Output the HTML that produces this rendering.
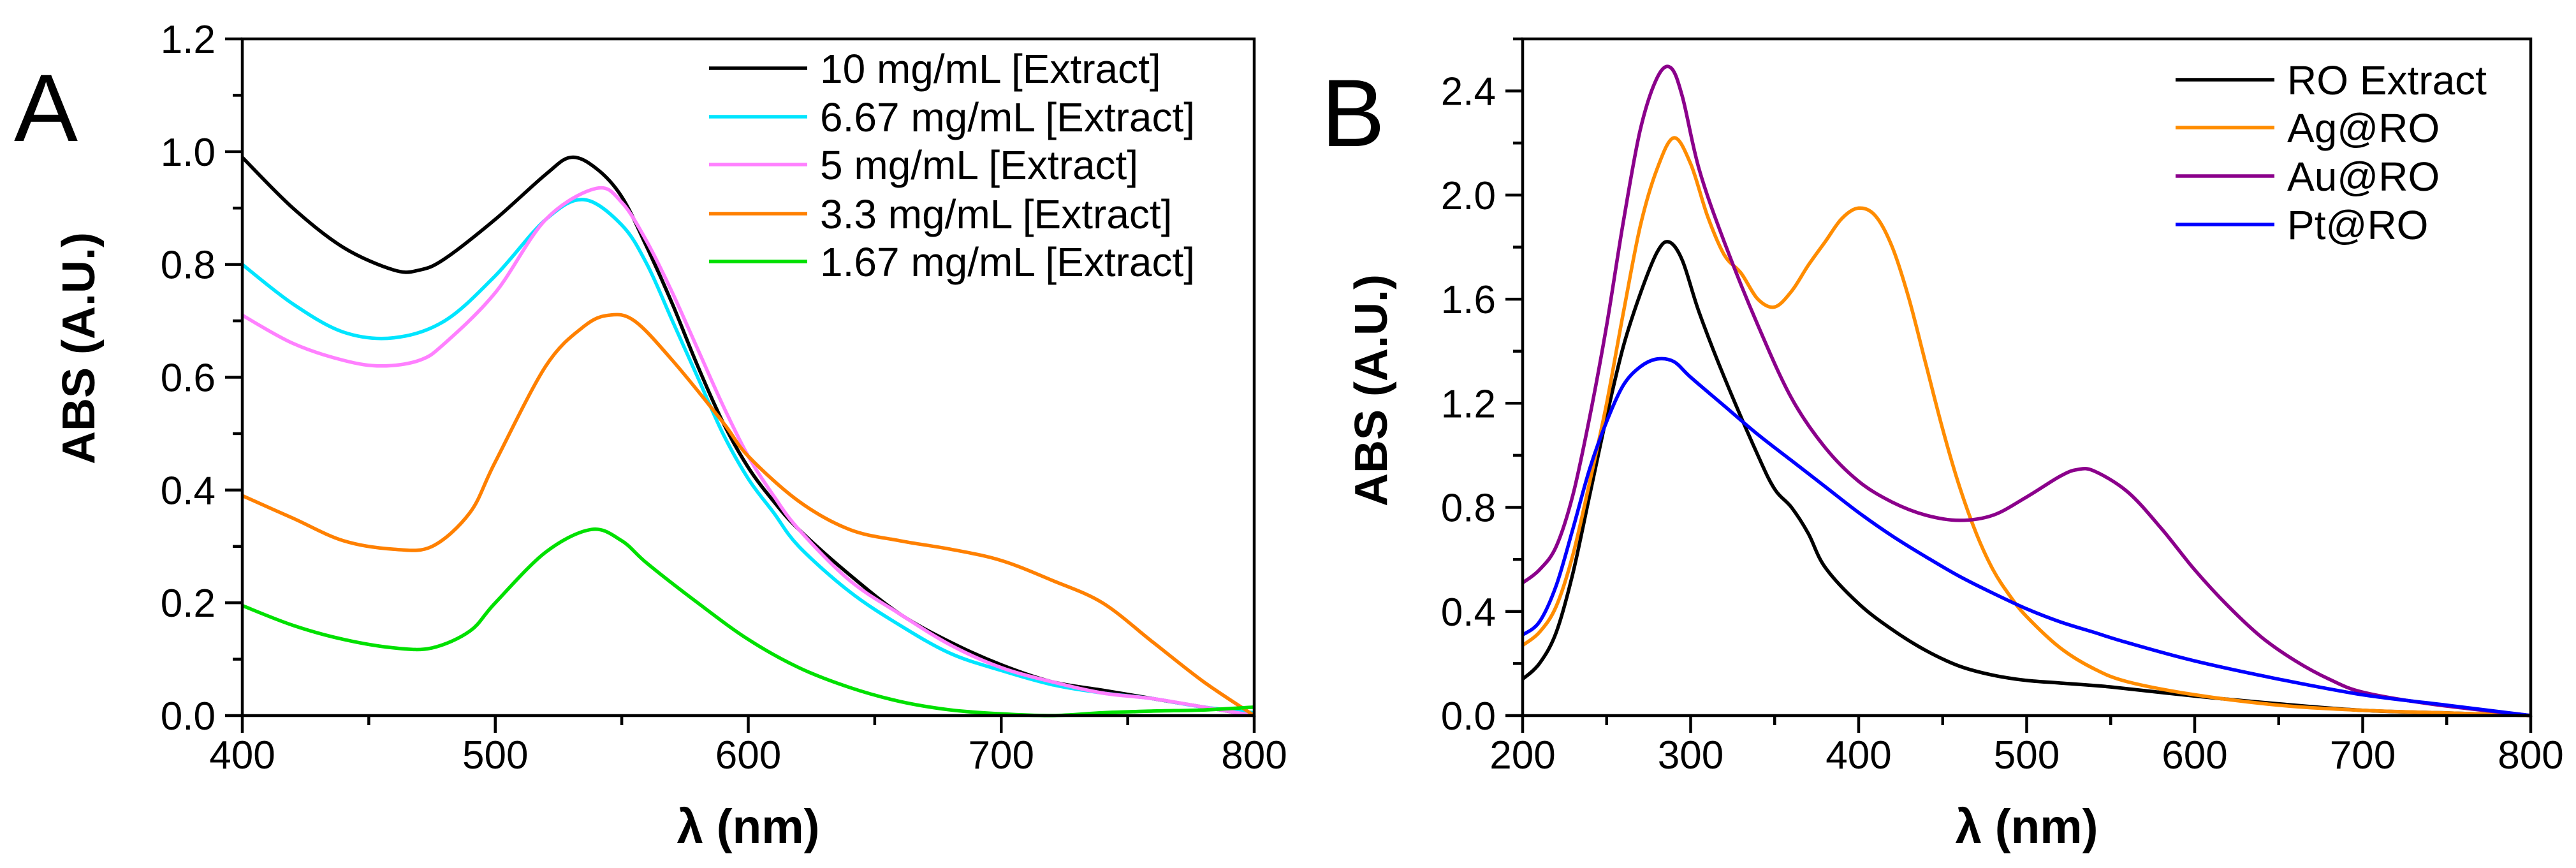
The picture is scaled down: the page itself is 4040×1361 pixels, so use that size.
<!DOCTYPE html>
<html><head><meta charset="utf-8"><style>
html,body{margin:0;padding:0;background:#fff}
svg text{font-family:"Liberation Sans",sans-serif}
</style></head><body>
<svg id="fig" width="4040" height="1356" viewBox="0 0 4040 1356" xmlns="http://www.w3.org/2000/svg"></svg>
<script>
// Panel A data
const xA_ticks=[400,500,600,700,800];
const yA_ticks=[0.0,0.2,0.4,0.6,0.8,1.0,1.2];
const yA_tickLabels=["0.0","0.2","0.4","0.6","0.8","1.0","1.2"];
const a10_x=[400,420,440,460,470,480,500,520,530,540,550,560,570,580,590,600,610,620,640,660,680,700,720,740,760,780,800];
const a10_y=[0.99,0.90,0.83,0.79,0.79,0.81,0.88,0.96,0.99,0.97,0.92,0.83,0.73,0.62,0.52,0.44,0.38,0.33,0.25,0.18,0.13,0.09,0.06,0.045,0.03,0.015,0.0];
const a667_x=[400,420,440,460,480,500,520,535,550,560,570,580,590,600,610,620,640,660,680,700,720,740,760,780,800];
const a667_y=[0.80,0.73,0.68,0.67,0.70,0.78,0.88,0.915,0.87,0.80,0.70,0.60,0.50,0.42,0.36,0.30,0.22,0.16,0.11,0.08,0.055,0.04,0.03,0.015,0.005];
const a5_x=[400,420,440,455,470,480,500,520,540,550,560,570,580,590,600,610,620,640,660,680,700,720,740,760,780,800];
const a5_y=[0.71,0.66,0.63,0.62,0.63,0.66,0.75,0.88,0.935,0.91,0.84,0.75,0.65,0.55,0.46,0.39,0.33,0.24,0.18,0.125,0.085,0.06,0.04,0.03,0.015,0.0];
const a33_x=[400,420,440,460,475,490,500,520,535,545,555,570,590,600,620,640,660,680,700,720,740,760,780,800];
const a33_y=[0.39,0.35,0.31,0.295,0.30,0.36,0.45,0.62,0.69,0.71,0.70,0.63,0.52,0.46,0.38,0.33,0.31,0.295,0.275,0.24,0.20,0.13,0.06,0.0];
const a167_x=[400,420,440,460,475,490,500,520,538,550,560,580,600,620,640,660,680,700,720,740,760,780,800];
const a167_y=[0.195,0.16,0.135,0.12,0.12,0.15,0.20,0.29,0.33,0.31,0.27,0.20,0.135,0.085,0.05,0.025,0.01,0.003,0.0,0.005,0.008,0.01,0.015];
const A_labels=["10 mg/mL [Extract]","6.67 mg/mL [Extract]","5 mg/mL [Extract]","3.3 mg/mL [Extract]","1.67 mg/mL [Extract]"];
// Panel B data
const xB_ticks=[200,300,400,500,600,700,800];
const yB_ticks=[0.0,0.4,0.8,1.2,1.6,2.0,2.4];
const yB_tickLabels=["0.0","0.4","0.8","1.2","1.6","2.0","2.4"];
const ro_x=[200,210,220,230,240,250,260,270,280,287,295,305,320,340,350,360,370,380,400,420,440,460,480,500,520,550,600,650,700,750,800];
const ro_y=[0.14,0.20,0.32,0.55,0.85,1.15,1.42,1.62,1.78,1.82,1.75,1.55,1.30,1.00,0.87,0.80,0.70,0.57,0.43,0.33,0.25,0.19,0.155,0.135,0.125,0.11,0.075,0.045,0.02,0.01,0.0];
const ag_x=[200,210,220,230,240,250,260,270,280,290,300,310,320,330,340,350,360,370,380,390,400,410,420,430,440,450,460,470,480,490,500,520,540,560,600,650,700,750,800];
const ag_y=[0.27,0.32,0.42,0.62,0.90,1.20,1.55,1.88,2.10,2.22,2.12,1.92,1.77,1.70,1.60,1.57,1.63,1.73,1.82,1.91,1.95,1.92,1.80,1.60,1.35,1.10,0.88,0.70,0.56,0.46,0.38,0.26,0.18,0.13,0.08,0.04,0.02,0.01,0.0];
const au_x=[200,210,220,230,240,250,260,270,280,288,295,305,320,340,360,380,400,420,440,460,480,500,520,530,540,560,580,600,620,640,660,680,700,740,800];
const au_y=[0.51,0.56,0.65,0.85,1.15,1.50,1.90,2.25,2.45,2.49,2.38,2.10,1.82,1.50,1.22,1.03,0.90,0.82,0.77,0.75,0.77,0.84,0.92,0.945,0.94,0.86,0.72,0.56,0.42,0.30,0.21,0.14,0.09,0.045,0.0];
const pt_x=[200,210,220,230,240,250,260,270,280,290,300,320,340,360,380,400,420,440,460,480,500,520,540,560,600,650,700,750,800];
const pt_y=[0.31,0.36,0.50,0.72,0.95,1.13,1.27,1.34,1.37,1.36,1.30,1.19,1.08,0.98,0.88,0.78,0.69,0.61,0.535,0.47,0.41,0.36,0.32,0.28,0.21,0.14,0.08,0.04,0.0];
const B_labels=["RO Extract","Ag@RO","Au@RO","Pt@RO"];

const NS="http://www.w3.org/2000/svg";
const svg=document.getElementById('fig');
function mk(tag,attrs,parent){const e=document.createElementNS(NS,tag);for(const k in attrs)e.setAttribute(k,attrs[k]);(parent||svg).appendChild(e);return e;}
function smooth(pts){let d=`M${pts[0][0]},${pts[0][1]}`;for(let i=0;i<pts.length-1;i++){const p0=pts[Math.max(i-1,0)],p1=pts[i],p2=pts[i+1],p3=pts[Math.min(i+2,pts.length-1)];const c1=[p1[0]+(p2[0]-p0[0])/6,p1[1]+(p2[1]-p0[1])/6],c2=[p2[0]-(p3[0]-p1[0])/6,p2[1]-(p3[1]-p1[1])/6];d+=` C${c1[0].toFixed(1)},${c1[1].toFixed(1)} ${c2[0].toFixed(1)},${c2[1].toFixed(1)} ${p2[0].toFixed(1)},${p2[1].toFixed(1)}`;}return d;}

function panel(cfg){
  const g=mk('g',{});
  
  
  const {L,R,T,B,xmin,xmax,ymin,ymax}=cfg;
  const sx=v=>L+(v-xmin)/(xmax-xmin)*(R-L);
  const sy=v=>B-(v-ymin)/(ymax-ymin)*(B-T);
  cfg.series.forEach(s=>{
    const pts=s.x.map((v,i)=>[sx(v),sy(s.y[i])]);
    const p=mk('path',{d:smooth(pts),fill:'none',stroke:s.color,'stroke-width':5.5,'stroke-linejoin':'round'},g);
    
    
  });
  const fr=mk('rect',{x:L,y:T,width:R-L,height:B-T,fill:'none',stroke:'#000','stroke-width':4.5},g);
  
  
  for(let v=xmin;v<=xmax+0.01;v+=cfg.xminor){const major=Math.abs((v-xmin)%cfg.xmajor)<1e-6;mk('line',{x1:sx(v),x2:sx(v),y1:B,y2:B+(major?27:15),stroke:'#000','stroke-width':4.5},g);}
  cfg.xticks.forEach(v=>{const t=mk('text',{x:sx(v),y:1205,'font-size':62,'text-anchor':'middle',fill:'#000'},g);t.textContent=String(v);});
  for(let v=ymin;v<=ymax+1e-6;v+=cfg.yminor){const k=Math.round((v-ymin)/cfg.yminor);const major=k%2===0;mk('line',{x1:L,x2:L-(major?27:15),y1:sy(v),y2:sy(v),stroke:'#000','stroke-width':4.5},g);}
  cfg.yticks.forEach((v,i)=>{const t=mk('text',{x:L-42,y:sy(v)+22,'font-size':62,'text-anchor':'end',fill:'#000'},g);t.textContent=cfg.ytickLabels[i];});
  const xt=mk('text',{x:(L+R)/2,y:1322,'font-size':76,'font-weight':'bold','text-anchor':'middle',fill:'#000',textLength:224,lengthAdjust:'spacingAndGlyphs'},g);
  xt.textContent='λ (nm)';
  const yx=cfg.ytitleX, yy=cfg.ytitleY;
  const yt=mk('text',{x:yx,y:yy,'font-size':72,'font-weight':'bold','text-anchor':'middle',fill:'#000',transform:`rotate(-90 ${yx} ${yy})`},g);
  yt.textContent='ABS (A.U.)';
  const lt=mk('text',{x:cfg.letterX,y:cfg.letterY,'font-size':150,fill:'#000'},g);
  lt.textContent=cfg.letter;
  cfg.series.forEach((s,i)=>{
    const y=cfg.legY[i];
    const ln=mk('line',{x1:cfg.legX1,x2:cfg.legX2,y1:y,y2:y,stroke:s.color,'stroke-width':5.5},g);
    
    const t=mk('text',{x:cfg.legX2+20,y:y+23,'font-size':64,fill:'#000'},g);
    t.textContent=s.label;
  });
}
panel({name:'panel-a',L:380,R:1967,T:61,B:1122,xmin:400,xmax:800,ymin:0,ymax:1.2,xmajor:100,xminor:50,yminor:0.1,
  xticks:xA_ticks,yticks:yA_ticks,ytickLabels:yA_tickLabels,ytitleX:148,ytitleY:546,letter:'A',letterX:22,letterY:221,
  legX1:1112,legX2:1266,legY:[107,183,258,335,410],
  series:[
    {x:a10_x,y:a10_y,color:'#000000',label:A_labels[0],dname:'line-10mg'},
    {x:a667_x,y:a667_y,color:'#00e5ff',label:A_labels[1],dname:'line-6-67mg'},
    {x:a5_x,y:a5_y,color:'#ff80ff',label:A_labels[2],dname:'line-5mg'},
    {x:a33_x,y:a33_y,color:'#ff8000',label:A_labels[3],dname:'line-3-3mg'},
    {x:a167_x,y:a167_y,color:'#00e000',label:A_labels[4],dname:'line-1-67mg'}]});
panel({name:'panel-b',L:2388,R:3969,T:61,B:1122,xmin:200,xmax:800,ymin:0,ymax:2.6,xmajor:100,xminor:50,yminor:0.2,
  xticks:xB_ticks,yticks:yB_ticks,ytickLabels:yB_tickLabels,ytitleX:2175,ytitleY:612,letter:'B',letterX:2072,letterY:229,
  legX1:3412,legX2:3567,legY:[125,200,276,352],
  series:[
    {x:ro_x,y:ro_y,color:'#000000',label:B_labels[0],dname:'line-ro-extract'},
    {x:ag_x,y:ag_y,color:'#ff8c00',label:B_labels[1],dname:'line-ag-ro'},
    {x:au_x,y:au_y,color:'#8b008b',label:B_labels[2],dname:'line-au-ro'},
    {x:pt_x,y:pt_y,color:'#0000ff',label:B_labels[3],dname:'line-pt-ro'}]});
</script>
</body></html>
